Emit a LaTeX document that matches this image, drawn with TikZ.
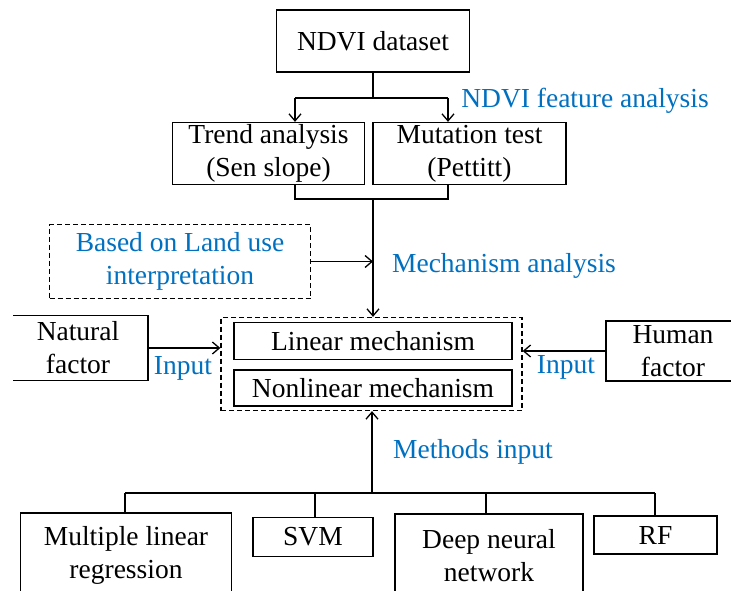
\documentclass[tikz,border=0pt]{standalone}
\usepackage{fontspec}
\setmainfont{Liberation Serif}
\usetikzlibrary{positioning}
\usetikzlibrary{calc}
\usetikzlibrary{arrows.meta}
\definecolor{labelblue}{RGB}{0,112,192}

\begin{document}
\begin{tikzpicture}[x=1pt, y=-1pt, line width=1.3pt,
		>={Straight Barb[length=7pt,width=12pt]},
		box/.style={draw, inner sep=0pt, align=center, font=\fontsize{27.5}{33}\selectfont},
		dbox/.style={box, dashed, dash pattern=on 5pt off 3pt},
		lbl/.style={text=labelblue, align=center, font=\fontsize{27.5}{33}\selectfont}]
		\useasboundingbox (0,0) rectangle (731,591);
		\clip (13,0) rectangle (731,591);
		% feature analysis
		\node[box, minimum width=193, minimum height=62] (data) at (373,41) {NDVI dataset};
		\node[box, minimum width=192, minimum height=62] (trend) at (268.5,153.5) {Trend analysis\\(Sen slope)};
		\node[box, minimum width=193, minimum height=62] (mutation) at (469.5,153.5) {Mutation test\\(Pettitt)};
		\node[lbl] (feature) at (585,101) {NDVI feature analysis};
		\coordinate (tl) at (295,98);
		\coordinate (tr) at (448,98);
		\coordinate (join) at (373,199);
		\draw (data.south) -- (data.south |- tl);
		\draw (tl) -- (tr);
		\draw[->] (tl) -- (tl |- trend.north);
		\draw[->] (tr) -- (tr |- mutation.north);
		\draw (tl |- trend.south) |- (join) -| (tr |- mutation.south);
		% mechanism analysis
		\node[dbox, text=labelblue, minimum width=261, minimum height=74] (landuse) at (180,261.5) {Based on Land use\\interpretation};
		\node[lbl] (mechlabel) at (504,266) {Mechanism analysis};
		\node[dbox, minimum width=301, minimum height=93] (mech) at (371.5,364) {};
		\node[box, minimum width=278, minimum height=37] (linear) at (373,341) {Linear mechanism};
		\node[box, minimum width=278, minimum height=36] (nonlinear) at (373,388) {Nonlinear mechanism};
		\node[box, minimum width=140, minimum height=65] (natural) at (78,348) {Natural\\factor};
		\node[box, minimum width=134, minimum height=60] (human) at (673,351) {Human\\factor};
		\node[lbl] (inleft) at (183,368) {Input};
		\node[lbl] (inright) at (566,367) {Input};
		\draw[->] (join) -- (join |- mech.north);
		\draw[->] (landuse.east) -- (landuse.east -| join);
		\draw[->] (natural.east) -- (natural.east -| mech.west);
		\draw[->] (human.west) -- (human.west -| mech.east);
		% methods
		\node[box, minimum width=211, minimum height=84] (mlr) at (126,555) {Multiple linear\\regression};
		\node[box, minimum width=120, minimum height=39] (svm) at (313,537) {SVM};
		\node[box, minimum width=188, minimum height=84] (dnn) at (489,556) {Deep neural\\network};
		\node[box, minimum width=123, minimum height=38] (rf) at (655.5,535) {RF};
		\node[lbl] (methods) at (473,452) {Methods input};
		\coordinate (hub) at (372,493);
		\coordinate (b1) at (125,493);
		\coordinate (b2) at (315,493);
		\coordinate (b3) at (486,493);
		\coordinate (b4) at (655,493);
		\draw[->] (hub) -- (hub |- mech.south);
		\draw (b1) -- (b4);
		\foreach \c/\n in {b1/mlr, b2/svm, b3/dnn, b4/rf}
			\draw (\c) -- (\c |- \n.north);
	\end{tikzpicture}
\end{document}
